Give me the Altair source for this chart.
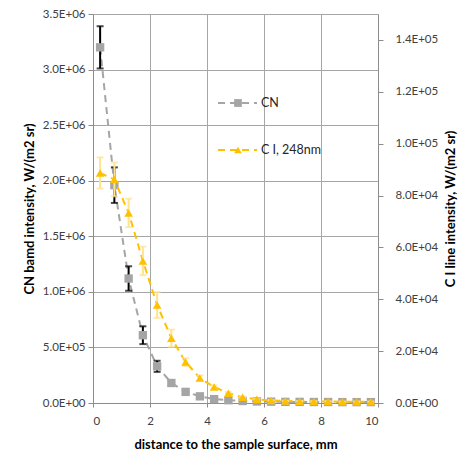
import altair as alt
import pandas as pd

distance = [0.25, 0.75, 1.25, 1.75, 2.25, 2.75, 3.25, 3.75, 4.25, 4.75,
            5.25, 5.75, 6.25, 6.75, 7.25, 7.75, 8.25, 8.75, 9.25, 9.75]
cn_values = [3.20e6, 1.96e6, 1.12e6, 0.61e6, 0.33e6, 0.18e6, 0.10e6, 0.06e6, 0.035e6, 0.025e6,
             0.018e6, 0.014e6, 0.012e6, 0.010e6, 0.010e6, 0.009e6, 0.009e6, 0.008e6, 0.008e6, 0.008e6]
cn_errors = [0.19e6, 0.16e6, 0.11e6, 0.08e6, 0.05e6, 0.02e6, 0.01e6, 0.006e6, 0.004e6, 0.003e6,
             0.002e6, 0.002e6, 0.001e6, 0.001e6, 0.001e6, 0.001e6, 0.001e6, 0.001e6, 0.001e6, 0.001e6]
ci_values = [0.887e5, 0.862e5, 0.733e5, 0.548e5, 0.378e5, 0.250e5, 0.158e5, 0.096e5, 0.062e5, 0.038e5,
             0.022e5, 0.014e5, 0.010e5, 0.008e5, 0.007e5, 0.006e5, 0.006e5, 0.005e5, 0.005e5, 0.005e5]
ci_errors = [0.060e5, 0.065e5, 0.055e5, 0.055e5, 0.050e5, 0.033e5, 0.015e5, 0.010e5, 0.006e5, 0.004e5,
             0.002e5, 0.002e5, 0.001e5, 0.001e5, 0.001e5, 0.001e5, 0.001e5, 0.001e5, 0.001e5, 0.001e5]
series_names = ["CN", "C I, 248nm"]
x_ticks = [0, 2, 4, 6, 8, 10]
left_ticks = [0, 5e5, 1e6, 1.5e6, 2e6, 2.5e6, 3e6, 3.5e6]
right_ticks = [0, 2e4, 4e4, 6e4, 8e4, 1e5, 1.2e5, 1.4e5]

FONT = "Lato"
GREY = "#A5A5A5"
GOLD = "#FFC000"
GOLD_ERR = "#FFE38F"
GRID = "#A6A6A6"

df = pd.DataFrame({
    "d": distance,
    "cn": cn_values,
    "cn_lo": [v - e for v, e in zip(cn_values, cn_errors)],
    "cn_hi": [v + e for v, e in zip(cn_values, cn_errors)],
    "ci": ci_values,
    "ci_lo": [v - e for v, e in zip(ci_values, ci_errors)],
    "ci_hi": [v + e for v, e in zip(ci_values, ci_errors)],
})

label_expr = "replace(format(datum.value, '.1e'), 'e+', 'E+0')"

x_axis = alt.Axis(values=x_ticks, title="distance to the sample surface, mm",
                  grid=True, gridColor=GRID, tickSize=4, labelPadding=8,
                  titlePadding=12, format="d")
x_scale = alt.Scale(domain=[0, 10], nice=False)
x_enc = alt.X("d:Q", scale=x_scale, axis=x_axis)

ycn_scale = alt.Scale(domain=[0, 3.5e6], nice=False)
yci_scale = alt.Scale(domain=[0, 1.5e5], nice=False)
ycn_axis = alt.Axis(values=left_ticks, labelExpr=label_expr,
                    title="CN bamd intensity, W/(m2 sr)", grid=True, gridColor=GRID,
                    tickSize=5, labelPadding=3, titlePadding=6)
yci_axis = alt.Axis(orient="right", values=right_ticks, labelExpr=label_expr,
                    title="C I line intensity, W/(m2 sr)", grid=False,
                    tickSize=5, labelPadding=12, titlePadding=7, titleAngle=270,
                    titleBaseline="top")

base = alt.Chart(df)

def ycn(f):
    return alt.Y(f, scale=ycn_scale, axis=ycn_axis)

def yci(f):
    return alt.Y(f, scale=yci_scale, axis=yci_axis)

# CN series
cn_line = base.mark_line(color=GREY, strokeWidth=2, strokeDash=[7, 5]).encode(
    x=x_enc, y=ycn("cn:Q"))
cn_err = base.mark_rule(color="black", strokeWidth=2).encode(
    x=x_enc, y=ycn("cn_lo:Q"), y2="cn_hi:Q")
cn_cap_lo = base.mark_tick(color="black", thickness=2, size=7, orient="horizontal").encode(
    x=x_enc, y=ycn("cn_lo:Q"))
cn_cap_hi = base.mark_tick(color="black", thickness=2, size=7, orient="horizontal").encode(
    x=x_enc, y=ycn("cn_hi:Q"))
cn_pts = base.mark_point(shape="square", filled=True, color=GREY, size=70, opacity=1).encode(
    x=x_enc, y=ycn("cn:Q"))
cn_layer = alt.layer(cn_line, cn_err, cn_cap_lo, cn_cap_hi, cn_pts)

# C I series
ci_line = base.mark_line(color=GOLD, strokeWidth=2, strokeDash=[7, 5]).encode(
    x=x_enc, y=yci("ci:Q"))
ci_err = base.mark_rule(color=GOLD_ERR, strokeWidth=2).encode(
    x=x_enc, y=yci("ci_lo:Q"), y2="ci_hi:Q")
ci_cap_lo = base.mark_tick(color=GOLD_ERR, thickness=2, size=7, orient="horizontal").encode(
    x=x_enc, y=yci("ci_lo:Q"))
ci_cap_hi = base.mark_tick(color=GOLD_ERR, thickness=2, size=7, orient="horizontal").encode(
    x=x_enc, y=yci("ci_hi:Q"))
ci_pts = base.mark_point(shape="triangle-up", filled=True, color=GOLD, size=75, opacity=1).encode(
    x=x_enc, y=yci("ci:Q"))
ci_layer = alt.layer(ci_line, ci_err, ci_cap_lo, ci_cap_hi, ci_pts)

# Manual legend
def legend_item(name, color, shape, ypos):
    d = pd.DataFrame({"label": [name]})
    c = alt.Chart(d)
    line = c.mark_rule(color=color, strokeWidth=2, strokeDash=[7, 5]).encode(
        x=alt.value(125), x2=alt.value(164), y=alt.value(ypos))
    mk = c.mark_point(shape=shape, filled=True, color=color, size=60, opacity=1).encode(
        x=alt.value(145), y=alt.value(ypos))
    txt = c.mark_text(align="left", baseline="middle", font=FONT, fontSize=12.5, color="#262626").encode(
        x=alt.value(168), y=alt.value(ypos), text="label:N")
    return alt.layer(line, mk, txt)

leg1 = legend_item(series_names[0], GREY, "square", 89)
leg2 = legend_item(series_names[1], GOLD, "triangle-up", 136)

chart = alt.layer(cn_layer, ci_layer, leg1, leg2).resolve_scale(y="independent").properties(
    width=285, height=389,
    autosize=alt.AutoSizeParams(type="none"),
    padding={"left": 93, "top": 14, "right": 84, "bottom": 54},
    background="white",
).configure_view(stroke=None).configure_axis(
    labelFont=FONT, titleFont=FONT, labelFontSize=11.5, titleFontSize=13,
    labelColor="#404040", titleColor="black", titleFontWeight="bold",
    domainColor="#8C8C8C", tickColor="#8C8C8C", gridColor=GRID,
)

chart.save("out.html", embed_options={"renderer": "svg", "actions": False})
